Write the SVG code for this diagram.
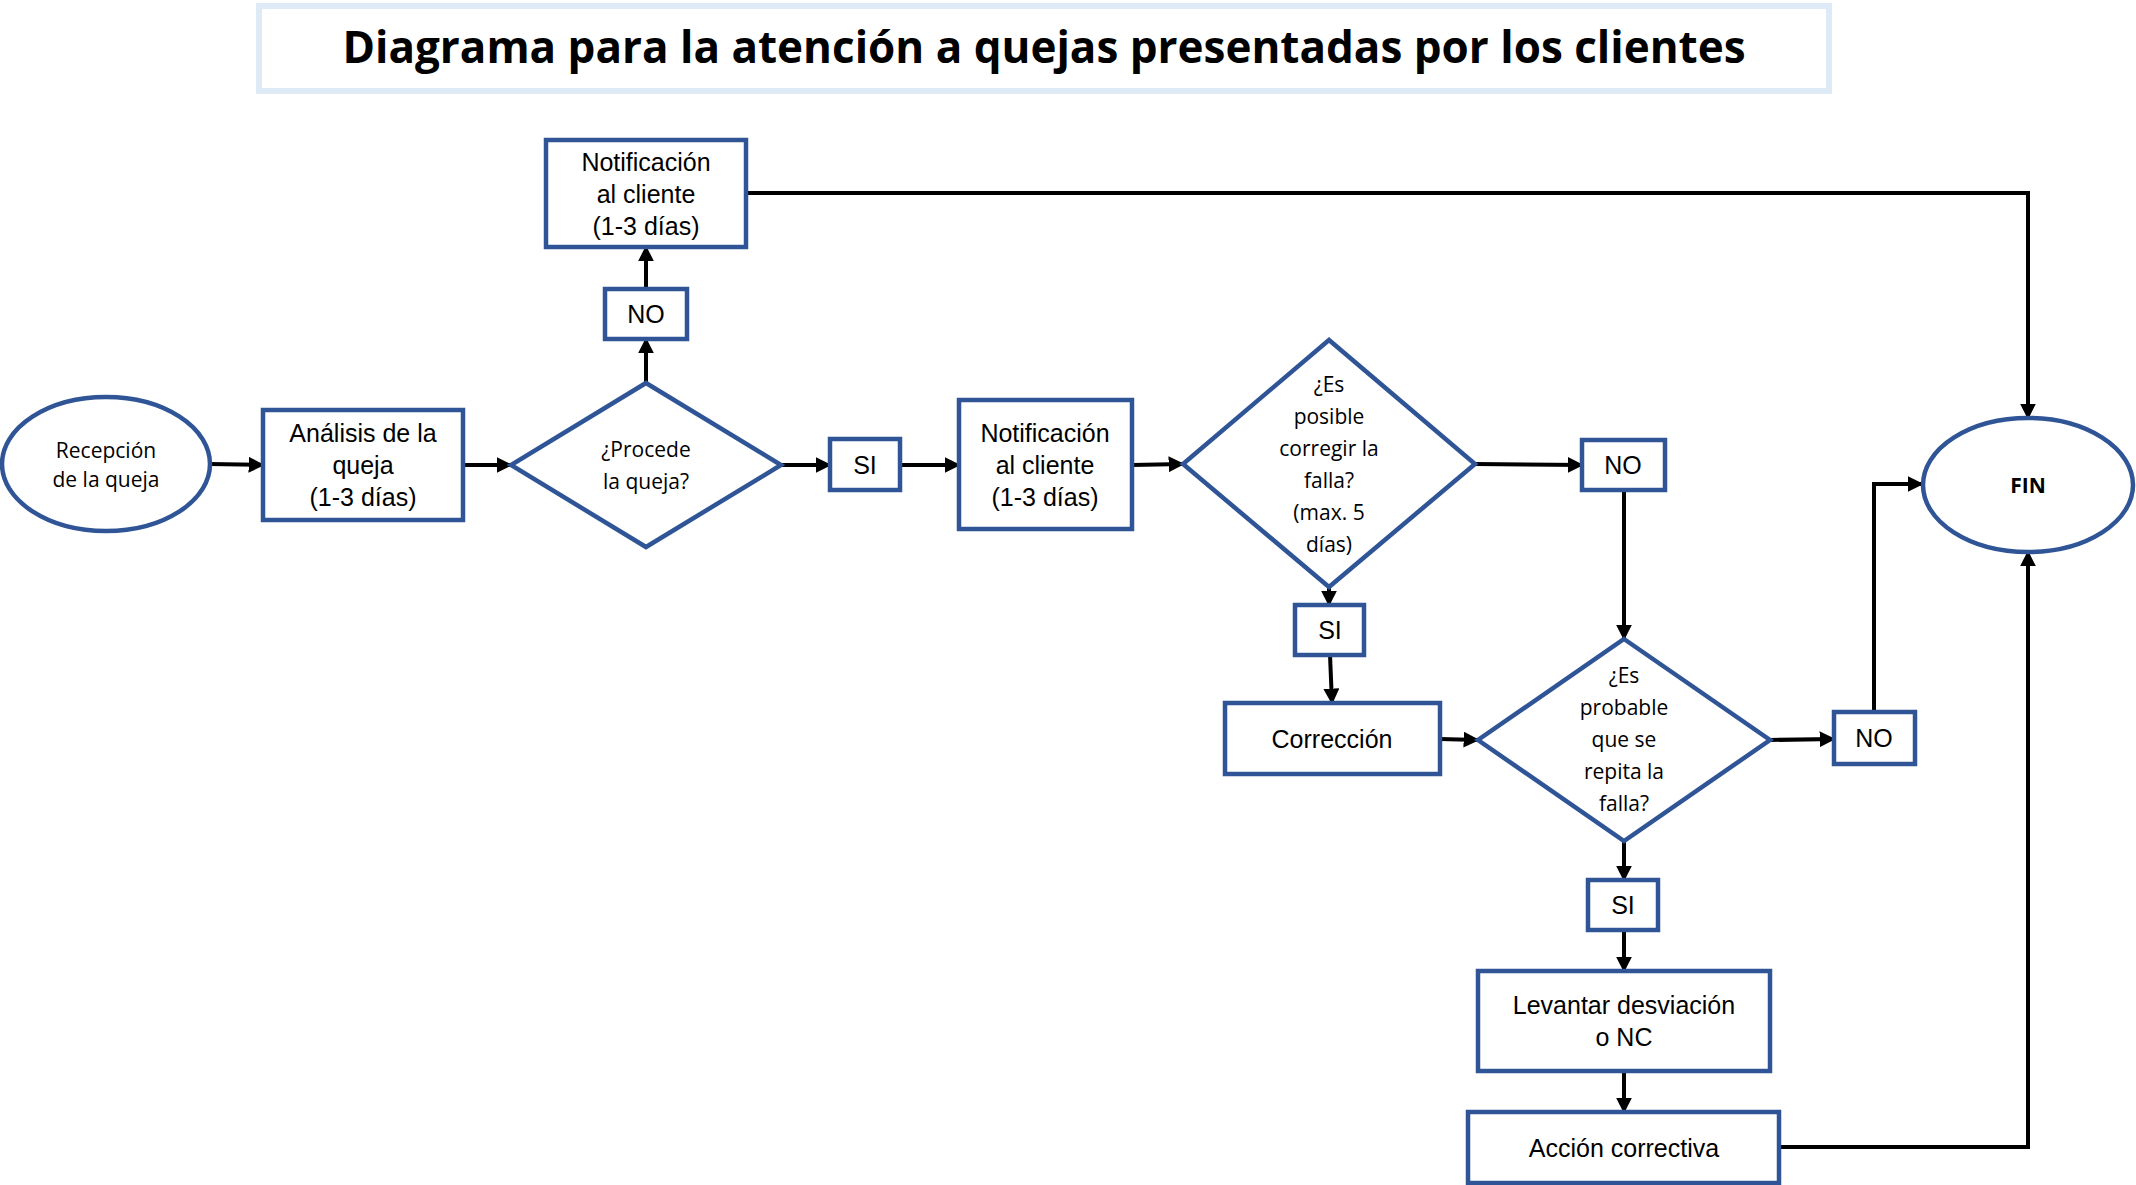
<svg xmlns="http://www.w3.org/2000/svg" width="2136" height="1185" viewBox="0 0 2136 1185">
<style>
.n{fill:#fff;stroke:#2F5597;stroke-width:4.5}
.t{font-family:"Liberation Sans",Arial,sans-serif;font-size:25px;fill:#000;text-anchor:middle}
.s{font-family:"Open Sans","Liberation Sans",sans-serif;font-size:21px;fill:#000;text-anchor:middle}
.c{fill:none;stroke:#000;stroke-width:4;marker-end:url(#a)}
</style>
<defs><marker id="a" viewBox="0 0 10 10" refX="9" refY="5" markerWidth="4" markerHeight="4" orient="auto"><path d="M0,0L10,5L0,10z" fill="#000"/></marker></defs>
<rect width="2136" height="1185" fill="#fff"/>
<g id="title"><rect x="259" y="6" width="1570" height="85" fill="#fff" stroke="#DEEAF6" stroke-width="6"/>
<text x="1044" y="63" style="font-family:'Open Sans','Liberation Sans',sans-serif;font-size:44px;font-weight:bold;text-anchor:middle">Diagrama para la atención a quejas presentadas por los clientes</text></g>
<g id="connectors">
<path class="c" d="M210,464L263,465"/>
<path class="c" d="M463,465L511,465"/>
<path class="c" d="M781,465L830,465"/>
<path class="c" d="M646,383L646,339"/>
<path class="c" d="M646,289L646,247"/>
<path class="c" d="M900,465L959,465"/>
<path class="c" d="M1132,465L1183,464"/>
<path class="c" d="M746,193L2028,193L2028,418"/>
<path class="c" d="M1475,464L1582,465"/>
<path class="c" d="M1624,490L1624,639"/>
<path class="c" d="M1329,587L1329,605"/>
<path class="c" d="M1330,655L1332,703"/>
<path class="c" d="M1440,739L1478,740"/>
<path class="c" d="M1770,740L1834,739"/>
<path class="c" d="M1874,712L1874,484L1922,484"/>
<path class="c" d="M1624,841L1624,880"/>
<path class="c" d="M1624,930L1624,971"/>
<path class="c" d="M1624,1071L1624,1112"/>
<path class="c" d="M1779,1147L2028,1147L2028,552"/>
</g>
<g id="recepcion"><ellipse class="n" cx="106" cy="464" rx="104" ry="67"/><text class="s" x="106" y="458">Recepción</text><text class="s" x="106" y="487">de la queja</text></g>
<g id="analisis"><rect class="n" x="263" y="410" width="200" height="110"/><text class="t" x="363" y="442">Análisis de la</text><text class="t" x="363" y="474">queja</text><text class="t" x="363" y="506">(1-3 días)</text></g>
<g id="procede"><path class="n" d="M646,383L781,465L646,547L511,465z"/><text class="s" x="646" y="457">¿Procede</text><text class="s" x="646" y="489">la queja?</text></g>
<g id="no1"><rect class="n" x="605" y="289" width="82" height="50"/><text class="t" x="646" y="323">NO</text></g>
<g id="notif1"><rect class="n" x="546" y="140" width="200" height="107"/><text class="t" x="646" y="171">Notificación</text><text class="t" x="646" y="203">al cliente</text><text class="t" x="646" y="235">(1-3 días)</text></g>
<g id="si1"><rect class="n" x="830" y="439" width="70" height="51"/><text class="t" x="865" y="474">SI</text></g>
<g id="notif2"><rect class="n" x="959" y="400" width="173" height="129"/><text class="t" x="1045" y="442">Notificación</text><text class="t" x="1045" y="474">al cliente</text><text class="t" x="1045" y="506">(1-3 días)</text></g>
<g id="posible"><path class="n" d="M1329,340L1475,464L1329,587L1183,464z"/><text class="s" x="1329" y="392">¿Es</text><text class="s" x="1329" y="424">posible</text><text class="s" x="1329" y="456">corregir la</text><text class="s" x="1329" y="488">falla?</text><text class="s" x="1329" y="520">(max. 5</text><text class="s" x="1329" y="552">días)</text></g>
<g id="no2"><rect class="n" x="1582" y="440" width="83" height="50"/><text class="t" x="1623" y="474">NO</text></g>
<g id="si2"><rect class="n" x="1295" y="605" width="69" height="50"/><text class="t" x="1330" y="639">SI</text></g>
<g id="correccion"><rect class="n" x="1225" y="703" width="215" height="71"/><text class="t" x="1332" y="748">Corrección</text></g>
<g id="probable"><path class="n" d="M1624,639L1770,740L1624,841L1478,740z"/><text class="s" x="1624" y="683">¿Es</text><text class="s" x="1624" y="715">probable</text><text class="s" x="1624" y="747">que se</text><text class="s" x="1624" y="779">repita la</text><text class="s" x="1624" y="811">falla?</text></g>
<g id="no3"><rect class="n" x="1834" y="712" width="81" height="52"/><text class="t" x="1874" y="747">NO</text></g>
<g id="fin"><ellipse class="n" cx="2028" cy="485" rx="105" ry="67"/><text class="s" x="2028" y="493" style="font-weight:bold">FIN</text></g>
<g id="si3"><rect class="n" x="1588" y="880" width="70" height="50"/><text class="t" x="1623" y="914">SI</text></g>
<g id="levantar"><rect class="n" x="1478" y="971" width="292" height="100"/><text class="t" x="1624" y="1014">Levantar desviación</text><text class="t" x="1624" y="1046">o NC</text></g>
<g id="accion"><rect class="n" x="1468" y="1112" width="311" height="71"/><text class="t" x="1624" y="1157">Acción correctiva</text></g>
</svg>
